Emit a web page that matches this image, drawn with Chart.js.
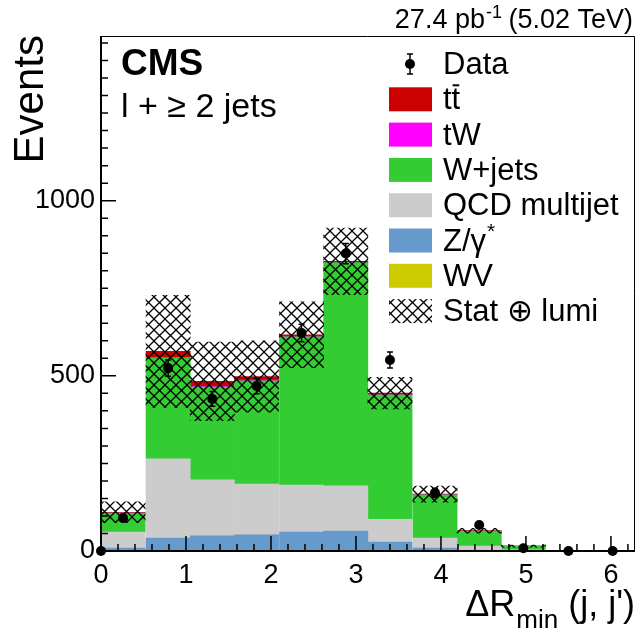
<!DOCTYPE html>
<html>
<head>
<meta charset="utf-8">
<script src="https://cdn.jsdelivr.net/npm/chart.js@4/dist/chart.umd.min.js"></script>
<style>
  html, body { margin: 0; padding: 0; background: #fff; }
</style>
</head>
<body>
<canvas id="chart" width="640" height="633"></canvas>
<script>
// bin centres of dR_min (12 bins of pi/6)
const binCenters = [0.26, 0.79, 1.31, 1.83, 2.36, 2.88, 3.40, 3.93, 4.45, 4.97, 5.50, 6.02];

// stacked MC, bottom -> top
const wv     = [0.3, 1, 1, 1, 1, 1, 0.5, 0.2, 0, 0, 0, 0];
const zgamma = [8, 36, 42, 45, 53, 56, 25, 8, 2, 0.5, 0, 0];
const qcd    = [46, 226, 160, 145, 134, 129, 65, 29, 12, 2.5, 0, 0];
const wjets  = [54, 288, 265, 295, 423, 637, 355, 123, 43, 11, 0, 0];
const tw     = [0.3, 2, 2, 2, 1, 1, 1, 0.3, 0, 0, 0, 0];
const ttbar  = [2, 17, 14, 10, 5, 3, 4, 2, 1, 0.2, 0, 0];

// stat (+) lumi half-width of the hatched band
const statLumi = [30, 160, 112, 102, 94, 95, 45, 23, 7, 3, 0, 0];

// data points
const dataX   = [0, 0.26, 0.79, 1.31, 1.83, 2.36, 2.88, 3.40, 3.93, 4.45, 4.97, 5.50, 6.02];
const dataY   = [0, 94, 522, 434, 471, 622, 849, 545, 166, 74, 8, 0, 0];
const dataErr = [0, 10, 23, 21, 22, 25, 29, 23, 13, 9, 3, 0, 0];

const yMajorTicks = [0, 500, 1000];
const xMajorTicks = [0, 1, 2, 3, 4, 5, 6];

const FONT = "'Liberation Sans', Arial, Helvetica, sans-serif";
const colors = {
  ttbar: "#cc0000",
  tw: "#ff00ff",
  wjets: "#33cc33",
  qcd: "#cccccc",
  zgamma: "#6699cc",
  wv: "#cccc00"
};

function makeHatch() {
  const c = document.createElement("canvas");
  c.width = 11; c.height = 11;
  const g = c.getContext("2d");
  g.strokeStyle = "#000";
  g.lineWidth = 1.3;
  g.beginPath();
  g.moveTo(-1, -1); g.lineTo(12, 12);
  g.moveTo(12, -1); g.lineTo(-1, 12);
  g.stroke();
  return g.createPattern(c, "repeat");
}
const hatch = makeHatch();

const totals = binCenters.map((_, i) => wv[i] + zgamma[i] + qcd[i] + wjets[i] + tw[i] + ttbar[i]);
const toBars = arr => binCenters.map((x, i) => ({ x, y: arr[i] }));

// axis frame + inward ticks, ROOT style
const axesPlugin = {
  id: "rootAxes",
  afterDatasetsDraw(chart) {
    const { ctx, chartArea: a, scales: { x, y } } = chart;
    ctx.save();
    ctx.strokeStyle = "#000";
    ctx.lineWidth = 1;
    ctx.beginPath();
    ctx.moveTo(a.left, a.top + 0.5);
    ctx.lineTo(a.right - 0.5, a.top + 0.5);
    ctx.lineTo(a.right - 0.5, a.bottom);
    ctx.stroke();

    ctx.lineWidth = 1.5;
    ctx.beginPath();
    for (let v = 0; v <= 6.25; v += 0.2) {
      const px = x.getPixelForValue(v);
      const major = Math.abs(v - Math.round(v)) < 1e-6;
      ctx.moveTo(px, a.bottom);
      ctx.lineTo(px, a.bottom - (major ? 15 : 7));
    }
    for (let v = 0; v <= 1450; v += 50) {
      const py = y.getPixelForValue(v);
      const major = v % 500 === 0;
      ctx.moveTo(a.left, py);
      ctx.lineTo(a.left + (major ? 15 : 7), py);
    }
    ctx.stroke();

    ctx.lineWidth = 2;
    ctx.beginPath();
    ctx.moveTo(a.left, a.top);
    ctx.lineTo(a.left, a.bottom);
    ctx.lineTo(a.right, a.bottom);
    ctx.stroke();

    // data error bars
    ctx.lineWidth = 1.5;
    ctx.beginPath();
    dataX.forEach((xv, i) => {
      if (!dataErr[i]) return;
      const px = x.getPixelForValue(xv);
      const top = y.getPixelForValue(dataY[i] + dataErr[i]);
      const bot = y.getPixelForValue(dataY[i] - dataErr[i]);
      ctx.moveTo(px, top); ctx.lineTo(px, bot);
      ctx.moveTo(px - 3, top); ctx.lineTo(px + 3, top);
      ctx.moveTo(px - 3, bot); ctx.lineTo(px + 3, bot);
    });
    ctx.stroke();
    ctx.restore();
  }
};

const textPlugin = {
  id: "rootText",
  afterDraw(chart) {
    const { ctx, chartArea: a } = chart;
    ctx.save();
    ctx.fillStyle = "#000";
    ctx.textBaseline = "alphabetic";

    // lumi label, right aligned
    const p1 = "27.4 pb", p3 = " (5.02 TeV)";
    ctx.font = "18px " + FONT;
    const wSup = ctx.measureText("-1").width;
    ctx.font = "27px " + FONT;
    const w1 = ctx.measureText(p1).width, w3 = ctx.measureText(p3).width;
    let lx = a.right - 2 - (w1 + wSup + w3);
    ctx.textAlign = "left";
    ctx.fillText(p1, lx, 28);
    ctx.font = "18px " + FONT;
    ctx.fillText("-1", lx + w1 + 1, 18);
    ctx.font = "27px " + FONT;
    ctx.fillText(p3, lx + w1 + wSup, 28);

    // CMS + selection
    ctx.font = "bold 37px " + FONT;
    ctx.fillText("CMS", 121, 75);
    ctx.font = "34px " + FONT;
    ctx.fillText("l + \u2265 2 jets", 121, 117);

    // y title
    ctx.save();
    ctx.translate(43, 35);
    ctx.rotate(-Math.PI / 2);
    ctx.textAlign = "right";
    ctx.font = "42px " + FONT;
    ctx.fillText("Events", 0, 0);
    ctx.restore();

    // x title
    ctx.font = "36px " + FONT;
    const wA = ctx.measureText("\u0394R").width;
    const wC = ctx.measureText(" (j, j')").width;
    ctx.font = "26px " + FONT;
    const wB = ctx.measureText("min").width;
    let tx = 634 - (wA + wB + wC);
    ctx.font = "36px " + FONT;
    ctx.fillText("\u0394R", tx, 616);
    ctx.font = "26px " + FONT;
    ctx.fillText("min", tx + wA + 1, 628);
    ctx.font = "36px " + FONT;
    ctx.fillText(" (j, j')", tx + wA + wB + 1, 616);

    // legend
    const rows = [
      { kind: "data", label: "Data" },
      { kind: "box", color: colors.ttbar, label: "tt", bar: true },
      { kind: "box", color: colors.tw, label: "tW" },
      { kind: "box", color: colors.wjets, label: "W+jets" },
      { kind: "box", color: colors.qcd, label: "QCD multijet" },
      { kind: "box", color: colors.zgamma, label: "Z/\u03b3", star: true },
      { kind: "box", color: colors.wv, label: "WV" },
      { kind: "hatch", label: "Stat \u2295 lumi" }
    ];
    const bx = 389, bw = 43, bh = 24, textX = 443;
    rows.forEach((r, i) => {
      const cy = 64 + i * 35.3;
      if (r.kind === "data") {
        ctx.strokeStyle = "#000";
        ctx.lineWidth = 1.5;
        ctx.beginPath();
        ctx.moveTo(410, cy - 10); ctx.lineTo(410, cy + 10);
        ctx.moveTo(407, cy - 10); ctx.lineTo(413, cy - 10);
        ctx.moveTo(407, cy + 10); ctx.lineTo(413, cy + 10);
        ctx.stroke();
        ctx.beginPath();
        ctx.arc(410, cy, 5, 0, Math.PI * 2);
        ctx.fill();
      } else if (r.kind === "box") {
        ctx.fillStyle = r.color;
        ctx.fillRect(bx, cy - bh / 2, bw, bh);
        ctx.fillStyle = "#000";
      } else {
        ctx.fillStyle = hatch;
        ctx.fillRect(bx, cy - bh / 2, bw, bh);
        ctx.fillStyle = "#000";
      }
      ctx.font = "31px " + FONT;
      const base = cy + 10;
      ctx.fillText(r.label, textX, base);
      if (r.bar) {
        const wt = ctx.measureText("t").width;
        ctx.fillRect(textX + wt + 1, base - 25, wt - 2, 2);
      }
      if (r.star) {
        const w = ctx.measureText(r.label).width;
        ctx.font = "21px " + FONT;
        ctx.fillText("*", textX + w + 1, base - 13);
      }
    });
    ctx.restore();
  }
};

new Chart(document.getElementById("chart"), {
  type: "bar",
  data: {
    datasets: [
      {
        type: "line",
        label: "Data",
        data: dataX.map((x, i) => ({ x, y: dataY[i] })),
        showLine: false,
        pointRadius: 5,
        pointBackgroundColor: "#000",
        pointBorderWidth: 0,
        stack: "data",
        clip: false
      },
      {
        label: "Stat \u2295 lumi",
        data: binCenters.map((x, i) => ({ x, y: [totals[i] - statLumi[i], totals[i] + statLumi[i]] })),
        backgroundColor: hatch,
        grouped: false,
        stack: "unc"
      },
      { label: "WV", data: toBars(wv), backgroundColor: colors.wv },
      { label: "Z/\u03b3*", data: toBars(zgamma), backgroundColor: colors.zgamma },
      { label: "QCD multijet", data: toBars(qcd), backgroundColor: colors.qcd },
      { label: "W+jets", data: toBars(wjets), backgroundColor: colors.wjets },
      { label: "tW", data: toBars(tw), backgroundColor: colors.tw },
      { label: "tt\u0304", data: toBars(ttbar), backgroundColor: colors.ttbar }
    ]
  },
  options: {
    responsive: false,
    animation: false,
    layout: { padding: { left: 0, right: 3, top: 36, bottom: 0 } },
    plugins: { legend: { display: false }, tooltip: { enabled: false } },
    datasets: { bar: { barPercentage: 1, categoryPercentage: 1, borderWidth: 0 } },
    scales: {
      x: {
        type: "linear",
        min: 0,
        max: 2 * Math.PI,
        stacked: true,
        offset: false,
        grid: { display: false, drawTicks: false },
        border: { display: false },
        afterBuildTicks(s) { s.ticks = xMajorTicks.map(v => ({ value: v })); },
        ticks: {
          autoSkip: false,
          maxRotation: 0,
          color: "#000",
          padding: 8,
          font: { family: FONT, size: 27 },
          callback: v => String(v)
        },
        afterFit(s) { s.height = 82; }
      },
      y: {
        type: "linear",
        min: 0,
        max: 1470,
        stacked: true,
        grid: { display: false, drawTicks: false },
        border: { display: false },
        afterBuildTicks(s) { s.ticks = yMajorTicks.map(v => ({ value: v })); },
        ticks: {
          autoSkip: false,
          color: "#000",
          padding: 6,
          font: { family: FONT, size: 27 },
          callback: v => String(v)
        },
        afterFit(s) { s.width = 101; }
      }
    }
  },
  plugins: [axesPlugin, textPlugin]
});
</script>
</body>
</html>
